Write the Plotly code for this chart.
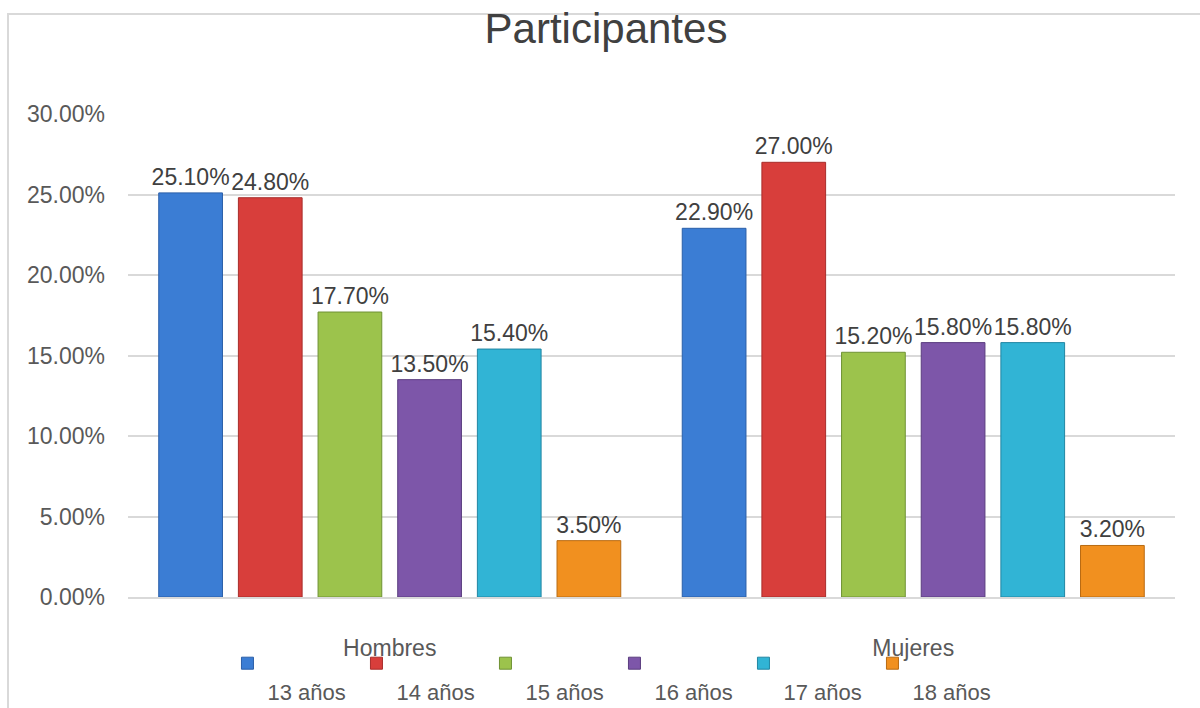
import plotly.graph_objects as go

categories = ["Hombres", "Mujeres"]
series_names = ["13 años", "14 años", "15 años", "16 años", "17 años", "18 años"]
values = {
    "13 años": [0.251, 0.229],
    "14 años": [0.248, 0.270],
    "15 años": [0.177, 0.152],
    "16 años": [0.135, 0.158],
    "17 años": [0.154, 0.158],
    "18 años": [0.035, 0.032],
}
colors = ["#3B7DD4", "#D83E3B", "#9CC34C", "#7D56A9", "#31B4D5", "#F1901F"]
line_colors = ["#2B5FA8", "#A82D2B", "#6F9234", "#5A3D7F", "#2286A3", "#B86A12"]
y_ticks = [0, 0.05, 0.10, 0.15, 0.20, 0.25, 0.30]

FONT = "Liberation Sans, Arial, sans-serif"

fig = go.Figure()
for name, c, lc in zip(series_names, colors, line_colors):
    vals = values[name]
    fig.add_trace(go.Bar(
        x=categories, y=vals, name=" <br>" + name,
        hovertemplate=name + ": %{y:.2%}<extra></extra>",
        marker=dict(color=c, line=dict(color=lc, width=1)),
        text=[f"{v*100:.2f}%" for v in vals],
        textposition="outside", constraintext="none", cliponaxis=False,
        textfont=dict(size=23, color="#404040", family=FONT),
    ))

fig.update_layout(
    width=1200, height=708,
    margin=dict(l=128, r=25, t=114, b=111, autoexpand=False),
    paper_bgcolor="white", plot_bgcolor="white",
    barmode="group", bargap=0.087, bargroupgap=0.2,
    font=dict(family=FONT, color="#595959"),
    title=dict(text="Participantes", x=0.505, xanchor="center", y=0.96, yanchor="middle",
               font=dict(size=42, color="#404040")),
    showlegend=True,
    legend=dict(orientation="h", x=0.095, xanchor="left", y=-0.094, yanchor="top",
                valign="top", tracegroupgap=0, bgcolor="rgba(0,0,0,0)",
                font=dict(size=22, color="#595959"), entrywidth=84, itemwidth=30),
    shapes=[dict(type="rect", xref="paper", yref="paper", x0=-0.1146, x1=1.2, y0=-0.5, y1=1.207,
                 line=dict(color="#D9D9D9", width=2), fillcolor="rgba(0,0,0,0)", layer="below")],
)
fig.update_yaxes(range=[0, 0.30], tickvals=y_ticks, tickformat=".2%", showgrid=True,
                 gridcolor="#D9D9D9", gridwidth=1.5, zeroline=False,
                 tickfont=dict(size=23, color="#595959"), ticklabelstandoff=22, showline=False)
fig.update_xaxes(showline=True, linecolor="#D9D9D9", linewidth=1.5,
                 tickfont=dict(size=23, color="#595959"), ticklabelstandoff=30)

fig.write_html("out.html")
